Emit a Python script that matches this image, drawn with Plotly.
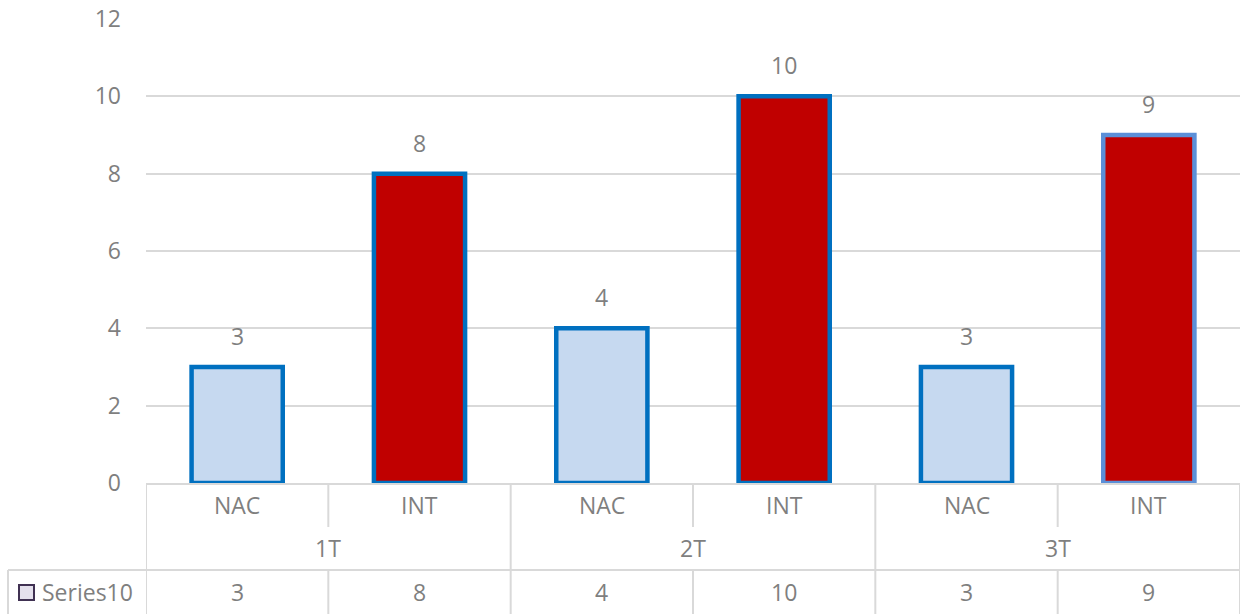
import plotly.graph_objects as go

subcats = ["NAC", "INT", "NAC", "INT", "NAC", "INT"]
groups = ["1T", "2T", "3T"]
values = [3, 8, 4, 10, 3, 9]
series_name = "Series10"

fills = ["#C6D9F0", "#C00000", "#C6D9F0", "#C00000", "#C6D9F0", "#C00000"]
outlines = ["#0070C0", "#0070C0", "#0070C0", "#0070C0", "#0070C0", "#5B8FD8"]

W, H = 1242, 614
ML, MR, MT, MB = 146, 2, 19, 131
PH = H - MT - MB
PW = W - ML - MR
GRID = "#D9D9D9"
TXT = "#7F7F7F"
FONT = "Open Sans"
FS = 23

def py(pix):
    # convert pixel y (from top) to paper coords
    return (H - MB - pix) / PH

def px(pix):
    return (pix - ML) / PW

xs = list(range(len(values)))

fig = go.Figure()
fig.add_trace(go.Bar(
    x=xs, y=values, width=0.5,
    marker=dict(color=fills, line=dict(color=outlines, width=4.5)),
    hoverinfo="skip", showlegend=False,
))

tfont = dict(family=FONT, size=FS, color=TXT)
annotations = []
for x, v in zip(xs, values):
    annotations.append(dict(x=x, y=v, xref="x", yref="y", text=str(v), showarrow=False,
                            xanchor="center", yanchor="middle", yshift=31, font=tfont))
for x, s in zip(xs, subcats):
    annotations.append(dict(x=x, y=py(505), xref="x", yref="paper", text=s, showarrow=False,
                            xanchor="center", yanchor="middle", font=tfont))
for i, g in enumerate(groups):
    annotations.append(dict(x=2 * i + 0.5, y=py(548), xref="x", yref="paper", text=g, showarrow=False,
                            xanchor="center", yanchor="middle", font=tfont))
for x, v in zip(xs, values):
    annotations.append(dict(x=x, y=py(592), xref="x", yref="paper", text=str(v), showarrow=False,
                            xanchor="center", yanchor="middle", font=tfont))
annotations.append(dict(x=px(40), y=py(592), xref="paper", yref="paper", text=series_name,
                        showarrow=False, xanchor="left", yanchor="middle", font=tfont))

shapes = []
def line(x0, y0, x1, y1):
    shapes.append(dict(type="line", xref="x", yref="paper", x0=x0, x1=x1, y0=py(y0), y1=py(y1),
                       line=dict(color=GRID, width=2), layer="below"))

n = len(values)
line(-0.5, 483, -0.5, 614)
line(n - 0.5, 483, n - 0.5, 614)
for b in range(1, n):
    xb = b - 0.5
    if b % 2 == 0:
        line(xb, 483, xb, 614)
    else:
        line(xb, 483, xb, 527)
        line(xb, 570, xb, 614)
shapes.append(dict(type="line", xref="paper", yref="paper", x0=px(8), x1=1,
                   y0=py(570), y1=py(570), line=dict(color=GRID, width=2)))
shapes.append(dict(type="line", xref="paper", yref="paper", x0=px(8), x1=px(8),
                   y0=py(570), y1=py(614), line=dict(color=GRID, width=2)))
shapes.append(dict(type="rect", xref="paper", yref="paper", x0=px(19), x1=px(34),
                   y0=py(600), y1=py(585), fillcolor="#E4E0EC", line=dict(color="#403152", width=2)))

fig.update_layout(
    width=W, height=H,
    margin=dict(l=ML, r=MR, t=MT, b=MB),
    plot_bgcolor="white", paper_bgcolor="white",
    xaxis=dict(range=[-0.5, n - 0.5], showticklabels=False, showgrid=False, zeroline=False,
               showline=True, linecolor=GRID, linewidth=2, fixedrange=True),
    yaxis=dict(range=[0, 12], dtick=2, showgrid=True, gridcolor=GRID, gridwidth=2, zeroline=False,
               showline=False, ticks="", ticklabelstandoff=24, tickfont=tfont, fixedrange=True),
    annotations=annotations, shapes=shapes,
)

fig.write_html("out.html", config={"displayModeBar": False},
               post_script="document.body.style.margin='0';document.body.style.overflow='hidden';")
